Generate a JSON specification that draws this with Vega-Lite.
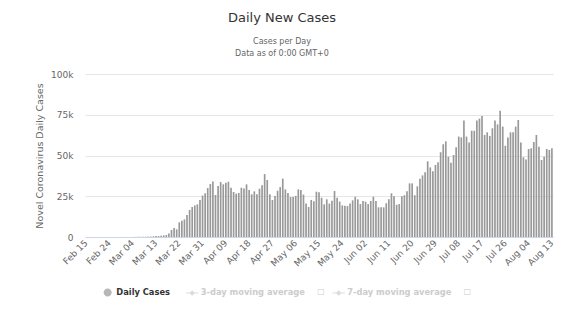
{
  "$schema": "https://vega.github.io/schema/vega-lite/v6.json",
  "width": 468,
  "height": 163,
  "autosize": "none",
  "padding": {"left": 85, "top": 74, "right": 12, "bottom": 92},
  "background": "white",
  "title": {
    "text": "Daily New Cases",
    "subtitle": ["Cases per Day", "Data as of 0:00 GMT+0"],
    "anchor": "middle",
    "dx": -37,
    "offset": 12,
    "font": "DejaVu Sans",
    "fontSize": 13,
    "fontWeight": "normal",
    "color": "#333333",
    "subtitleFont": "DejaVu Sans",
    "subtitleFontSize": 8,
    "subtitleColor": "#666666",
    "subtitlePadding": 13,
    "subtitleLineHeight": 12
  },
  "data": {
    "values": [
      {"d": "Feb 15", "v": 0, "s": "Daily Cases"},
      {"d": "Feb 16", "v": 0, "s": "Daily Cases"},
      {"d": "Feb 17", "v": 0, "s": "Daily Cases"},
      {"d": "Feb 18", "v": 0, "s": "Daily Cases"},
      {"d": "Feb 19", "v": 0, "s": "Daily Cases"},
      {"d": "Feb 20", "v": 0, "s": "Daily Cases"},
      {"d": "Feb 21", "v": 2, "s": "Daily Cases"},
      {"d": "Feb 22", "v": 0, "s": "Daily Cases"},
      {"d": "Feb 23", "v": 0, "s": "Daily Cases"},
      {"d": "Feb 24", "v": 1, "s": "Daily Cases"},
      {"d": "Feb 25", "v": 0, "s": "Daily Cases"},
      {"d": "Feb 26", "v": 6, "s": "Daily Cases"},
      {"d": "Feb 27", "v": 1, "s": "Daily Cases"},
      {"d": "Feb 28", "v": 2, "s": "Daily Cases"},
      {"d": "Feb 29", "v": 8, "s": "Daily Cases"},
      {"d": "Mar 01", "v": 8, "s": "Daily Cases"},
      {"d": "Mar 02", "v": 23, "s": "Daily Cases"},
      {"d": "Mar 03", "v": 22, "s": "Daily Cases"},
      {"d": "Mar 04", "v": 24, "s": "Daily Cases"},
      {"d": "Mar 05", "v": 74, "s": "Daily Cases"},
      {"d": "Mar 06", "v": 81, "s": "Daily Cases"},
      {"d": "Mar 07", "v": 110, "s": "Daily Cases"},
      {"d": "Mar 08", "v": 121, "s": "Daily Cases"},
      {"d": "Mar 09", "v": 167, "s": "Daily Cases"},
      {"d": "Mar 10", "v": 291, "s": "Daily Cases"},
      {"d": "Mar 11", "v": 296, "s": "Daily Cases"},
      {"d": "Mar 12", "v": 412, "s": "Daily Cases"},
      {"d": "Mar 13", "v": 537, "s": "Daily Cases"},
      {"d": "Mar 14", "v": 582, "s": "Daily Cases"},
      {"d": "Mar 15", "v": 724, "s": "Daily Cases"},
      {"d": "Mar 16", "v": 980, "s": "Daily Cases"},
      {"d": "Mar 17", "v": 1200, "s": "Daily Cases"},
      {"d": "Mar 18", "v": 2200, "s": "Daily Cases"},
      {"d": "Mar 19", "v": 4300, "s": "Daily Cases"},
      {"d": "Mar 20", "v": 5500, "s": "Daily Cases"},
      {"d": "Mar 21", "v": 4700, "s": "Daily Cases"},
      {"d": "Mar 22", "v": 9000, "s": "Daily Cases"},
      {"d": "Mar 23", "v": 10000, "s": "Daily Cases"},
      {"d": "Mar 24", "v": 10800, "s": "Daily Cases"},
      {"d": "Mar 25", "v": 13500, "s": "Daily Cases"},
      {"d": "Mar 26", "v": 16600, "s": "Daily Cases"},
      {"d": "Mar 27", "v": 18400, "s": "Daily Cases"},
      {"d": "Mar 28", "v": 19400, "s": "Daily Cases"},
      {"d": "Mar 29", "v": 20000, "s": "Daily Cases"},
      {"d": "Mar 30", "v": 22700, "s": "Daily Cases"},
      {"d": "Mar 31", "v": 25400, "s": "Daily Cases"},
      {"d": "Apr 01", "v": 26800, "s": "Daily Cases"},
      {"d": "Apr 02", "v": 30000, "s": "Daily Cases"},
      {"d": "Apr 03", "v": 32500, "s": "Daily Cases"},
      {"d": "Apr 04", "v": 34000, "s": "Daily Cases"},
      {"d": "Apr 05", "v": 25800, "s": "Daily Cases"},
      {"d": "Apr 06", "v": 31300, "s": "Daily Cases"},
      {"d": "Apr 07", "v": 33700, "s": "Daily Cases"},
      {"d": "Apr 08", "v": 32300, "s": "Daily Cases"},
      {"d": "Apr 09", "v": 33300, "s": "Daily Cases"},
      {"d": "Apr 10", "v": 33900, "s": "Daily Cases"},
      {"d": "Apr 11", "v": 30200, "s": "Daily Cases"},
      {"d": "Apr 12", "v": 27600, "s": "Daily Cases"},
      {"d": "Apr 13", "v": 26600, "s": "Daily Cases"},
      {"d": "Apr 14", "v": 27000, "s": "Daily Cases"},
      {"d": "Apr 15", "v": 30200, "s": "Daily Cases"},
      {"d": "Apr 16", "v": 29800, "s": "Daily Cases"},
      {"d": "Apr 17", "v": 32300, "s": "Daily Cases"},
      {"d": "Apr 18", "v": 28800, "s": "Daily Cases"},
      {"d": "Apr 19", "v": 26200, "s": "Daily Cases"},
      {"d": "Apr 20", "v": 28000, "s": "Daily Cases"},
      {"d": "Apr 21", "v": 26200, "s": "Daily Cases"},
      {"d": "Apr 22", "v": 29600, "s": "Daily Cases"},
      {"d": "Apr 23", "v": 31700, "s": "Daily Cases"},
      {"d": "Apr 24", "v": 38600, "s": "Daily Cases"},
      {"d": "Apr 25", "v": 35000, "s": "Daily Cases"},
      {"d": "Apr 26", "v": 26200, "s": "Daily Cases"},
      {"d": "Apr 27", "v": 22700, "s": "Daily Cases"},
      {"d": "Apr 28", "v": 25200, "s": "Daily Cases"},
      {"d": "Apr 29", "v": 28400, "s": "Daily Cases"},
      {"d": "Apr 30", "v": 30600, "s": "Daily Cases"},
      {"d": "May 01", "v": 35800, "s": "Daily Cases"},
      {"d": "May 02", "v": 29200, "s": "Daily Cases"},
      {"d": "May 03", "v": 27000, "s": "Daily Cases"},
      {"d": "May 04", "v": 24500, "s": "Daily Cases"},
      {"d": "May 05", "v": 24500, "s": "Daily Cases"},
      {"d": "May 06", "v": 25200, "s": "Daily Cases"},
      {"d": "May 07", "v": 29200, "s": "Daily Cases"},
      {"d": "May 08", "v": 28800, "s": "Daily Cases"},
      {"d": "May 09", "v": 26000, "s": "Daily Cases"},
      {"d": "May 10", "v": 20500, "s": "Daily Cases"},
      {"d": "May 11", "v": 18400, "s": "Daily Cases"},
      {"d": "May 12", "v": 22700, "s": "Daily Cases"},
      {"d": "May 13", "v": 21900, "s": "Daily Cases"},
      {"d": "May 14", "v": 27800, "s": "Daily Cases"},
      {"d": "May 15", "v": 27400, "s": "Daily Cases"},
      {"d": "May 16", "v": 24100, "s": "Daily Cases"},
      {"d": "May 17", "v": 20000, "s": "Daily Cases"},
      {"d": "May 18", "v": 23100, "s": "Daily Cases"},
      {"d": "May 19", "v": 20500, "s": "Daily Cases"},
      {"d": "May 20", "v": 22300, "s": "Daily Cases"},
      {"d": "May 21", "v": 28200, "s": "Daily Cases"},
      {"d": "May 22", "v": 24100, "s": "Daily Cases"},
      {"d": "May 23", "v": 21700, "s": "Daily Cases"},
      {"d": "May 24", "v": 19400, "s": "Daily Cases"},
      {"d": "May 25", "v": 19200, "s": "Daily Cases"},
      {"d": "May 26", "v": 19000, "s": "Daily Cases"},
      {"d": "May 27", "v": 20500, "s": "Daily Cases"},
      {"d": "May 28", "v": 22500, "s": "Daily Cases"},
      {"d": "May 29", "v": 24700, "s": "Daily Cases"},
      {"d": "May 30", "v": 23100, "s": "Daily Cases"},
      {"d": "May 31", "v": 20200, "s": "Daily Cases"},
      {"d": "Jun 01", "v": 22100, "s": "Daily Cases"},
      {"d": "Jun 02", "v": 21700, "s": "Daily Cases"},
      {"d": "Jun 03", "v": 20200, "s": "Daily Cases"},
      {"d": "Jun 04", "v": 22100, "s": "Daily Cases"},
      {"d": "Jun 05", "v": 24700, "s": "Daily Cases"},
      {"d": "Jun 06", "v": 22100, "s": "Daily Cases"},
      {"d": "Jun 07", "v": 18200, "s": "Daily Cases"},
      {"d": "Jun 08", "v": 18200, "s": "Daily Cases"},
      {"d": "Jun 09", "v": 18200, "s": "Daily Cases"},
      {"d": "Jun 10", "v": 20700, "s": "Daily Cases"},
      {"d": "Jun 11", "v": 23100, "s": "Daily Cases"},
      {"d": "Jun 12", "v": 26800, "s": "Daily Cases"},
      {"d": "Jun 13", "v": 25000, "s": "Daily Cases"},
      {"d": "Jun 14", "v": 19800, "s": "Daily Cases"},
      {"d": "Jun 15", "v": 20200, "s": "Daily Cases"},
      {"d": "Jun 16", "v": 25000, "s": "Daily Cases"},
      {"d": "Jun 17", "v": 25600, "s": "Daily Cases"},
      {"d": "Jun 18", "v": 28000, "s": "Daily Cases"},
      {"d": "Jun 19", "v": 32900, "s": "Daily Cases"},
      {"d": "Jun 20", "v": 32900, "s": "Daily Cases"},
      {"d": "Jun 21", "v": 25600, "s": "Daily Cases"},
      {"d": "Jun 22", "v": 31100, "s": "Daily Cases"},
      {"d": "Jun 23", "v": 35800, "s": "Daily Cases"},
      {"d": "Jun 24", "v": 37800, "s": "Daily Cases"},
      {"d": "Jun 25", "v": 39700, "s": "Daily Cases"},
      {"d": "Jun 26", "v": 46400, "s": "Daily Cases"},
      {"d": "Jun 27", "v": 42700, "s": "Daily Cases"},
      {"d": "Jun 28", "v": 40300, "s": "Daily Cases"},
      {"d": "Jun 29", "v": 44200, "s": "Daily Cases"},
      {"d": "Jun 30", "v": 45800, "s": "Daily Cases"},
      {"d": "Jul 01", "v": 52000, "s": "Daily Cases"},
      {"d": "Jul 02", "v": 56900, "s": "Daily Cases"},
      {"d": "Jul 03", "v": 58700, "s": "Daily Cases"},
      {"d": "Jul 04", "v": 49300, "s": "Daily Cases"},
      {"d": "Jul 05", "v": 45600, "s": "Daily Cases"},
      {"d": "Jul 06", "v": 50300, "s": "Daily Cases"},
      {"d": "Jul 07", "v": 55000, "s": "Daily Cases"},
      {"d": "Jul 08", "v": 61600, "s": "Daily Cases"},
      {"d": "Jul 09", "v": 61100, "s": "Daily Cases"},
      {"d": "Jul 10", "v": 71400, "s": "Daily Cases"},
      {"d": "Jul 11", "v": 61600, "s": "Daily Cases"},
      {"d": "Jul 12", "v": 57900, "s": "Daily Cases"},
      {"d": "Jul 13", "v": 65200, "s": "Daily Cases"},
      {"d": "Jul 14", "v": 65200, "s": "Daily Cases"},
      {"d": "Jul 15", "v": 71400, "s": "Daily Cases"},
      {"d": "Jul 16", "v": 72600, "s": "Daily Cases"},
      {"d": "Jul 17", "v": 74200, "s": "Daily Cases"},
      {"d": "Jul 18", "v": 62600, "s": "Daily Cases"},
      {"d": "Jul 19", "v": 64200, "s": "Daily Cases"},
      {"d": "Jul 20", "v": 62000, "s": "Daily Cases"},
      {"d": "Jul 21", "v": 66700, "s": "Daily Cases"},
      {"d": "Jul 22", "v": 71400, "s": "Daily Cases"},
      {"d": "Jul 23", "v": 69100, "s": "Daily Cases"},
      {"d": "Jul 24", "v": 77500, "s": "Daily Cases"},
      {"d": "Jul 25", "v": 67700, "s": "Daily Cases"},
      {"d": "Jul 26", "v": 56000, "s": "Daily Cases"},
      {"d": "Jul 27", "v": 61100, "s": "Daily Cases"},
      {"d": "Jul 28", "v": 64200, "s": "Daily Cases"},
      {"d": "Jul 29", "v": 64200, "s": "Daily Cases"},
      {"d": "Jul 30", "v": 67700, "s": "Daily Cases"},
      {"d": "Jul 31", "v": 71800, "s": "Daily Cases"},
      {"d": "Aug 01", "v": 57900, "s": "Daily Cases"},
      {"d": "Aug 02", "v": 48900, "s": "Daily Cases"},
      {"d": "Aug 03", "v": 47600, "s": "Daily Cases"},
      {"d": "Aug 04", "v": 54000, "s": "Daily Cases"},
      {"d": "Aug 05", "v": 54400, "s": "Daily Cases"},
      {"d": "Aug 06", "v": 58300, "s": "Daily Cases"},
      {"d": "Aug 07", "v": 62600, "s": "Daily Cases"},
      {"d": "Aug 08", "v": 55400, "s": "Daily Cases"},
      {"d": "Aug 09", "v": 47200, "s": "Daily Cases"},
      {"d": "Aug 10", "v": 49300, "s": "Daily Cases"},
      {"d": "Aug 11", "v": 54000, "s": "Daily Cases"},
      {"d": "Aug 12", "v": 53400, "s": "Daily Cases"},
      {"d": "Aug 13", "v": 54400, "s": "Daily Cases"}
    ]
  },
  "layer": [
    {
      "mark": {"type": "bar", "color": "#999999"},
      "encoding": {
        "x": {
          "field": "d",
          "type": "ordinal",
          "sort": null,
          "scale": {"paddingInner": 0.35, "paddingOuter": 0.1},
          "axis": {
            "title": null,
            "values": ["Feb 15", "Feb 24", "Mar 04", "Mar 13", "Mar 22", "Mar 31", "Apr 09", "Apr 18", "Apr 27", "May 06", "May 15", "May 24", "Jun 02", "Jun 11", "Jun 20", "Jun 29", "Jul 08", "Jul 17", "Jul 26", "Aug 04", "Aug 13"],
            "labelAngle": -45,
            "labelAlign": "right",
            "labelBaseline": "middle",
            "labelPadding": 4,
            "labelFont": "DejaVu Sans",
            "labelFontSize": 9,
            "labelColor": "#666666",
            "labelOverlap": false,
            "labelBound": false,
            "ticks": false,
            "domainColor": "#ccd6eb",
            "grid": false
          }
        },
        "y": {
          "field": "v",
          "type": "quantitative",
          "scale": {"domain": [0, 100000]},
          "axis": {
            "title": "Novel Coronavirus Daily Cases",
            "titleFont": "DejaVu Sans",
            "titleFontSize": 9.5,
            "titleFontWeight": "normal",
            "titleColor": "#666666",
            "titlePadding": 6,
            "values": [0, 25000, 50000, 75000, 100000],
            "labelExpr": "datum.value == 0 ? '0' : format(datum.value / 1000, 'd') + 'k'",
            "labelFont": "DejaVu Sans",
            "labelFontSize": 9,
            "labelColor": "#666666",
            "labelPadding": 12,
            "domain": false,
            "ticks": false,
            "gridColor": "#e6e6e6"
          }
        },
        "color": {
          "field": "s",
          "type": "nominal",
          "scale": {"domain": ["Daily Cases", "3-day moving average", "7-day moving average"], "range": ["#999999", "#cccccc", "#cccccc"]}
        }
      }
    },
    {
      "transform": [{"filter": "false"}],
      "mark": {"type": "point", "filled": true},
      "encoding": {
        "color": {"field": "s", "type": "nominal"},
        "shape": {
          "field": "s",
          "type": "nominal",
          "scale": {"domain": ["Daily Cases", "3-day moving average", "7-day moving average"], "range": ["M1.3,0A1.3,1.3,0,1,1,-1.3,0A1.3,1.3,0,1,1,1.3,0Z", "M-2,-0.16H2V0.16H-2Z M0,-0.9L0.9,0L0,0.9L-0.9,0Z", "M-2,-0.16H2V0.16H-2Z M0,-0.9L0.9,0L0,0.9L-0.9,0Z"]},
          "legend": {
            "labelExpr": "datum.value == 'Daily Cases' ? datum.label + '\u2002\u2002\u200b' : datum.label + '\u2002\u2002\u2002\u2610'",
            "labelColor": {"expr": "datum.value == 'Daily Cases' ? '#333333' : '#cccccc'"}
          }
        }
      }
    }
  ],
  "config": {
    "view": {"stroke": null},
    "legend": {
      "orient": "none",
      "legendX": 18.5,
      "legendY": 214,
      "direction": "horizontal",
      "title": null,
      "labelFont": "DejaVu Sans",
      "labelFontSize": 8.3,
      "labelFontWeight": "bold",
      "symbolSize": 38,
      "columnPadding": 6.5,
      "labelOffset": 4.5,
      "labelLimit": 300
    }
  }
}
